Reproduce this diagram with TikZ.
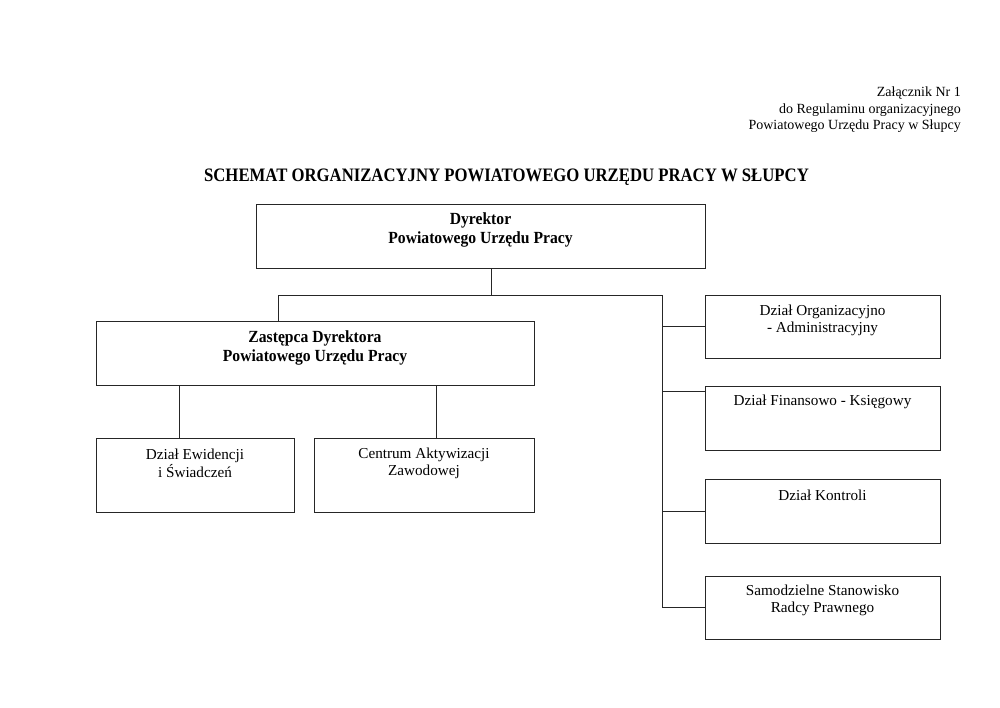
\documentclass[tikz,border=0pt]{standalone}
\usepackage{fontspec}
\setmainfont{Liberation Serif}
\usetikzlibrary{calc}
\tikzset{
  box/.style={draw=black!85, line width=1pt, inner sep=0pt},
  lbl/.style={align=center, inner sep=0pt, font=\fontsize{15.2}{17.5}\selectfont},
  blbl/.style={align=center, inner sep=0pt, xscale=0.92, font=\fontsize{17}{19}\selectfont\bfseries},
  conn/.style={draw=black!85, line width=1pt},
}
\begin{document}
\begin{tikzpicture}[x=1pt,y=-1pt]
\fill[white] (0,0) rectangle (1000,707);
\useasboundingbox (0,0) rectangle (1000,707);
% header
\node[anchor=east, align=right, inner sep=0pt, font=\fontsize{14}{16.5}\selectfont] (hdr) at (961,110)
  {Załącznik Nr 1\\do Regulaminu organizacyjnego\\Powiatowego Urzędu Pracy w Słupcy};
\node[inner sep=0pt, xscale=0.88, font=\fontsize{19}{22}\selectfont\bfseries] (title) at (506.5,177)
  {SCHEMAT ORGANIZACYJNY POWIATOWEGO URZĘDU PRACY W SŁUPCY};
% boxes
\node[box, minimum width=449pt, minimum height=64pt] (dyr) at (480.5,236) {};
\node[box, minimum width=438pt, minimum height=64pt] (zast) at (315,353) {};
\node[box, minimum width=198pt, minimum height=74pt] (ewid) at (195,475) {};
\node[box, minimum width=220pt, minimum height=74pt] (cent) at (424,475) {};
\node[box, minimum width=235pt, minimum height=63pt] (org) at (822.5,326.5) {};
\node[box, minimum width=235pt, minimum height=64pt] (fin) at (822.5,418) {};
\node[box, minimum width=235pt, minimum height=64pt] (kont) at (822.5,511) {};
\node[box, minimum width=235pt, minimum height=63pt] (samo) at (822.5,607.5) {};
% labels
\node[blbl] (tdyr) at (480.5,229.5) {Dyrektor\\Powiatowego Urzędu Pracy};
\node[blbl] (tzast) at (315,347.5) {Zastępca Dyrektora\\Powiatowego Urzędu Pracy};
\node[lbl] (tewid) at (195,463.5) {Dział Ewidencji\\i Świadczeń};
\node[lbl] (tcent) at (424,463.5) {Centrum Aktywizacji\\Zawodowej};
\node[lbl] (torg) at (822.5,320.5) {Dział Organizacyjno\\- Administracyjny};
\node[lbl] (tfin) at (822.5,401.5) {Dział Finansowo - Księgowy};
\node[lbl] (tkont) at (822.5,495) {Dział Kontroli};
\node[lbl] (tsamo) at (822.5,600.5) {Samodzielne Stanowisko\\Radcy Prawnego};
% connectors
\coordinate (tL) at (278,295);
\coordinate (tM) at (491,295);
\coordinate (tR) at (662,295);
\draw[conn] (tM |- dyr.south) -- (tM);
\draw[conn] (zast.north -| tL) -- (tL) -- (tR) -- (tR |- samo.west) -- (samo.west);
\draw[conn] (tR |- org.west) -- (org.west);
\coordinate (fy) at ($(fin.north west)+(0,6)$);
\draw[conn] (tR |- fy) -- (fy);
\draw[conn] (tR |- kont.west) -- (kont.west);
\draw[conn] ($(zast.south west)+(84,0)$) -- ($(ewid.north west)+(84,0)$);
\draw[conn] ($(zast.south west)+(341,0)$) -- ($(cent.north west)+(123,0)$);
\end{tikzpicture}
\end{document}
